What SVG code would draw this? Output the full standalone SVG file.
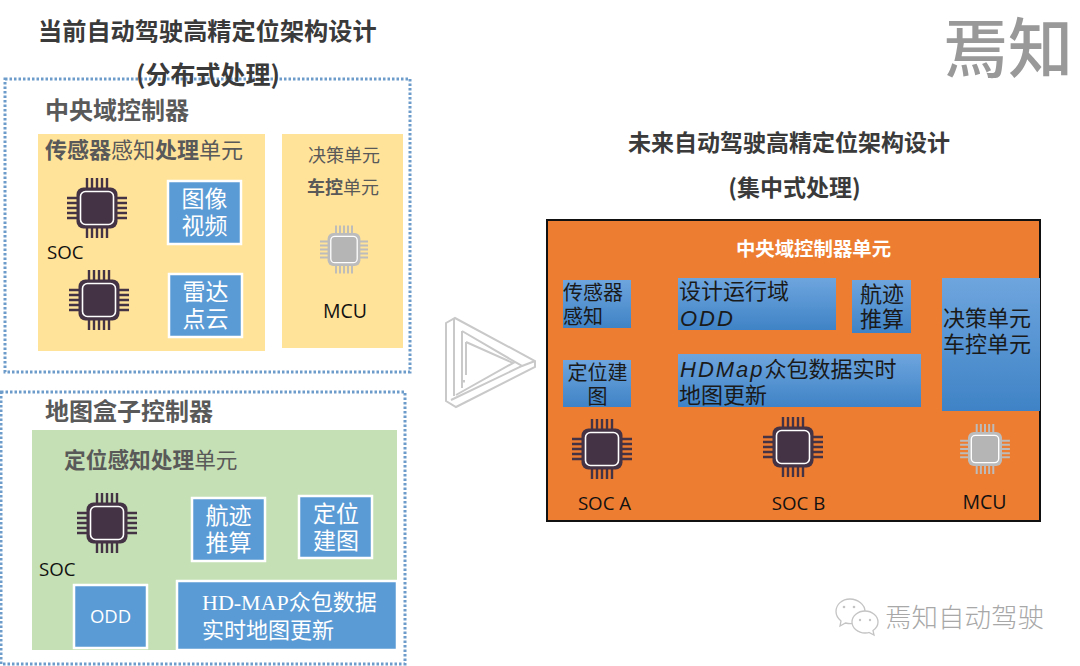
<svg xmlns="http://www.w3.org/2000/svg" xmlns:xlink="http://www.w3.org/1999/xlink" width="1080" height="666" viewBox="0 0 1080 666">
<style>
text{font-family:"Noto Sans CJK SC","Noto Sans",sans-serif}
.t{font-weight:700;fill:#3a3a3a}
.h{font-weight:700;fill:#595959}
.r{font-weight:400;fill:#595959}
.w{fill:#fff;text-anchor:middle;font-size:23px}
.k{fill:#1a1a1a;font-size:22px}
.s{font-size:20px}
.c{font-family:"Open Sans","Noto Sans",sans-serif;font-size:18.700px;fill:#111}
.m{font-family:"Liberation Sans",sans-serif;font-style:italic;letter-spacing:2px}
.box{fill:#fff;stroke:#6d9ccb;stroke-width:3;stroke-dasharray:2.500 2}
.blue{fill:#5b9bd5;stroke:#fff;stroke-width:2.500}
.grad{fill:url(#g)}
.tri{fill:none;stroke:#c9c9c9;stroke-width:2}
.wx{fill:#fff;stroke:#c4c4c4;stroke-width:1.300}
.eye{fill:#c4c4c4}
</style>
<defs>
<linearGradient id="g" x1="0" y1="0" x2="0" y2="1"><stop offset="0" stop-color="#6ea5de"/><stop offset="1" stop-color="#3f83c6"/></linearGradient>
<path id="pins" fill="none" stroke-width="2.400" d="M-10-30V-20M-5-30V-20M0-30V-20M5-30V-20M10-30V-20M-10 20V30M-5 20V30M0 20V30M5 20V30M10 20V30M-30-10H-20M-30-5H-20M-30 0H-20M-30 5H-20M-30 10H-20M20-10H30M20-5H30M20 0H30M20 5H30M20 10H30"/>
<g id="chip"><use xlink:href="#pins" stroke="#443344"/><rect x="-20.500" y="-20.500" width="41" height="41" rx="7" fill="#443344"/><rect x="-16.500" y="-16.500" width="33" height="33" rx="5" fill="#443344" stroke="#fff" stroke-width="1.600"/></g>
<g id="chipg"><use xlink:href="#pins" stroke="#bcbcbc"/><rect x="-20.500" y="-20.500" width="41" height="41" rx="7" fill="#bcbcbc"/><rect x="-16.500" y="-16.500" width="33" height="33" rx="5" fill="#b5b5b5" stroke="#fff" stroke-width="1.600"/></g>
</defs>
<rect width="1080" height="666" fill="#fff"/>

<g id="logo"><text x="943" y="72" font-size="65" font-weight="500" fill="#999">焉知</text></g>

<g id="central-domain">
<rect class="box" x="5" y="79" width="405" height="293"/>
<text class="t" x="38" y="40" font-size="24.200">当前自动驾驶高精定位架构设计</text>
<text class="t" x="208" y="84" font-size="25" text-anchor="middle">(分布式处理)</text>
<text class="h" x="45" y="119" font-size="24">中央域控制器</text>
</g>
<g id="sensor-unit">
<rect x="38" y="134" width="227" height="217" fill="#ffe399"/>
<text x="45" y="158" font-size="22"><tspan class="h">传感器</tspan><tspan class="r">感知</tspan><tspan class="h">处理</tspan><tspan class="r">单元</tspan></text>
<use xlink:href="#chip" x="97" y="208"/>
<text class="c" x="47" y="259">SOC</text>
<use xlink:href="#chip" x="99" y="300"/>
</g>
<g id="image-video"><rect class="blue" x="168" y="181" width="73" height="63"/><text class="w" y="207"><tspan x="204.500">图像</tspan><tspan x="204.500" dy="27">视频</tspan></text></g>
<g id="radar-cloud"><rect class="blue" x="169" y="274" width="73" height="63"/><text class="w" y="300"><tspan x="205.500">雷达</tspan><tspan x="205.500" dy="27">点云</tspan></text></g>
<g id="decision-unit">
<rect x="282" y="134" width="121" height="214" fill="#ffe399"/>
<text class="r" x="308" y="162" font-size="18">决策单元</text>
<text x="307" y="194" font-size="18"><tspan class="h">车控</tspan><tspan class="r">单元</tspan></text>
<use xlink:href="#chipg" transform="translate(344 249.500) scale(.8)"/>
<text class="c" x="345" y="318" text-anchor="middle" style="font-size:19.500px">MCU</text>
</g>

<g id="map-box">
<rect class="box" x="1" y="392" width="404" height="272"/>
<text class="h" x="45" y="420" font-size="24">地图盒子控制器</text>
<rect x="32" y="430" width="365" height="220" fill="#c5e0b4"/>
<text x="64" y="468" font-size="21.700"><tspan class="h">定位感知处理</tspan><tspan class="r">单元</tspan></text>
<use xlink:href="#chip" x="107" y="523"/>
<text class="c" x="39" y="576">SOC</text>
</g>
<g id="dead-reckoning"><rect class="blue" x="192" y="498" width="73" height="63"/><text class="w" y="524"><tspan x="228.500">航迹</tspan><tspan x="228.500" dy="27">推算</tspan></text></g>
<g id="mapping"><rect class="blue" x="299" y="496" width="73" height="62"/><text class="w" y="522"><tspan x="336">定位</tspan><tspan x="336" dy="27">建图</tspan></text></g>
<g id="odd"><rect class="blue" x="74" y="585" width="73" height="63"/><text class="w" x="110.500" y="623" style="font-family:'Open Sans',sans-serif;font-size:18.500px">ODD</text></g>
<g id="hdmap"><rect class="blue" x="177" y="581" width="220" height="69"/>
<text font-size="22" fill="#fff" y="610"><tspan x="202" font-family="Liberation Serif">HD-MAP</tspan><tspan>众包数据</tspan><tspan x="202" dy="28">实时地图更新</tspan></text></g>

<g id="arrow">
<path class="tri" d="M446 323L455 318L535 361V367L456 407L446 401ZM454 319V396M462 331L522 366L451 400M462 331V388M466 342V375M466 342L513 363L456 395M535 361L522 366"/>
<rect x="462" y="380" width="3" height="2.500" fill="#c9c9c9"/>
</g>

<g id="future-title">
<text class="t" x="789" y="151" font-size="23" text-anchor="middle">未来自动驾驶高精定位架构设计</text>
<text class="t" x="794.500" y="196" font-size="23" text-anchor="middle">(集中式处理)</text>
</g>
<g id="central-unit">
<rect x="547" y="220" width="493" height="301" fill="#ed7d31" stroke="#111" stroke-width="2"/>
<text x="813.500" y="256" font-size="19.400" font-weight="700" fill="#fff" text-anchor="middle">中央域控制器单元</text>
</g>
<g id="sensing"><rect class="grad" x="563" y="280" width="68" height="48"/><text class="k s" y="300"><tspan x="563">传感器</tspan><tspan x="563" dy="24">感知</tspan></text></g>
<g id="odd-future"><rect class="grad" x="678" y="278" width="158" height="52"/><text class="k" y="299"><tspan x="679">设计运行域</tspan><tspan class="m" x="680" dy="27">ODD</tspan></text></g>
<g id="reckoning-future"><rect class="grad" x="852" y="280" width="59" height="53"/><text class="k" y="302"><tspan x="860">航迹</tspan><tspan x="860" dy="25">推算</tspan></text></g>
<g id="decision-future"><rect class="grad" x="942" y="278" width="98" height="133"/><text class="k" y="326"><tspan x="943">决策单元</tspan><tspan x="943" dy="26">车控单元</tspan></text></g>
<g id="mapping-future"><rect class="grad" x="563" y="360" width="68" height="47"/><text class="k s" y="380" text-anchor="middle"><tspan x="597.500">定位建</tspan><tspan x="597.500" dy="24">图</tspan></text></g>
<g id="hdmap-future"><rect class="grad" x="678" y="354" width="243" height="53"/><text class="k" y="377"><tspan class="m" x="680">HDMap</tspan><tspan>众包数据实时</tspan><tspan x="679" dy="26">地图更新</tspan></text></g>
<g id="soc-a"><use xlink:href="#chip" x="602" y="449"/><text class="c" x="604.500" y="510" text-anchor="middle">SOC A</text></g>
<g id="soc-b"><use xlink:href="#chip" x="793" y="447"/><text class="c" x="798.500" y="510" text-anchor="middle">SOC B</text></g>
<g id="mcu-future"><use xlink:href="#chipg" transform="translate(985 449) scale(.83)"/><text class="c" x="984.500" y="509" text-anchor="middle" style="font-size:19.500px">MCU</text></g>

<g id="watermark">
<path class="wx" d="M850 599c-8 0-14 5.500-14 12.500 0 4 2 7 5 9.500l-1 5 5.500-3c2 .5 3 .7 5 .7 8 0 14.500-5.500 14.500-12.200S858 599 850 599z"/>
<circle class="eye" cx="844" cy="607" r="1.300"/><circle class="eye" cx="854" cy="607" r="1.300"/>
<path class="wx" d="M865 611c-7 0-13 5-13 11s6 11 13 11c1.500 0 3 0 4-.5l5 2.500-1-4.500c3-2 5-5 5-8.500 0-6-6-11-13-11z"/>
<circle class="eye" cx="860" cy="620" r="1.200"/><circle class="eye" cx="870" cy="620" r="1.200"/>
<text x="885" y="627" font-size="26.500" font-weight="300" fill="#a8a8a8">焉知自动驾驶</text>
</g>
</svg>
